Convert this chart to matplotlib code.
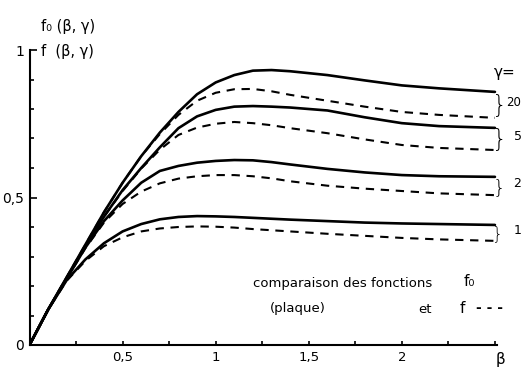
import numpy as np
import matplotlib
matplotlib.use("Agg")
import matplotlib.pyplot as plt

# beta grid and read-off values (solid = f0 plaque, dashed = f)
beta = [0, 0.1, 0.2, 0.3, 0.4, 0.5, 0.6, 0.7, 0.8, 0.9, 1.0, 1.1, 1.2, 1.3, 1.4, 1.6, 1.8, 2.0, 2.2, 2.5]

f0_g20 = [0, 0.12, 0.23, 0.34, 0.45, 0.55, 0.64, 0.72, 0.79, 0.85, 0.89, 0.915, 0.93, 0.932, 0.928, 0.915, 0.897, 0.88, 0.87, 0.858]
f_g20 = [0, 0.12, 0.23, 0.34, 0.45, 0.55, 0.64, 0.715, 0.78, 0.828, 0.855, 0.867, 0.868, 0.86, 0.848, 0.828, 0.808, 0.79, 0.78, 0.77]

f0_g5 = [0, 0.12, 0.228, 0.335, 0.435, 0.525, 0.6, 0.67, 0.735, 0.775, 0.797, 0.808, 0.81, 0.808, 0.805, 0.795, 0.772, 0.752, 0.742, 0.736]
f_g5 = [0, 0.12, 0.228, 0.335, 0.435, 0.522, 0.598, 0.662, 0.712, 0.737, 0.75, 0.756, 0.752, 0.745, 0.735, 0.718, 0.697, 0.678, 0.668, 0.661]

f0_g2 = [0, 0.12, 0.225, 0.33, 0.42, 0.49, 0.55, 0.59, 0.607, 0.618, 0.624, 0.627, 0.626, 0.62, 0.612, 0.597, 0.585, 0.576, 0.572, 0.57]
f_g2 = [0, 0.12, 0.225, 0.328, 0.415, 0.478, 0.52, 0.548, 0.564, 0.572, 0.576, 0.576, 0.572, 0.565, 0.555, 0.54, 0.53, 0.522, 0.514, 0.508]

f0_g1 = [0, 0.12, 0.22, 0.29, 0.345, 0.385, 0.41, 0.426, 0.434, 0.437, 0.436, 0.434, 0.431, 0.428, 0.425, 0.42, 0.415, 0.412, 0.41, 0.407]
f_g1 = [0, 0.12, 0.218, 0.285, 0.335, 0.365, 0.385, 0.395, 0.4, 0.402, 0.401, 0.398, 0.393, 0.389, 0.385, 0.377, 0.37, 0.363, 0.358, 0.353]

gammas = ["20", "5", "2", "1"]
solid_curves = [f0_g20, f0_g5, f0_g2, f0_g1]
dashed_curves = [f_g20, f_g5, f_g2, f_g1]

x_ticks = [0.5, 1.0, 1.5, 2.0]
x_ticklabels = ["0,5", "1", "1,5", "2"]
y_ticks = [0, 0.5, 1]
y_ticklabels = ["0", "0,5", "1"]

fig = plt.figure(figsize=(5.25, 3.68), dpi=100)
ax = fig.add_axes([29.5 / 525, 23 / 368, 467.3 / 525, 295 / 368])

for s, d in zip(solid_curves, dashed_curves):
    ax.plot(beta, s, color="black", lw=1.9, solid_capstyle="round")
    ax.plot(beta, d, color="black", lw=1.5, dashes=(4, 3.2))

ax.set_xlim(0, 2.51)
ax.set_ylim(0, 1)
for side in ["top", "right"]:
    ax.spines[side].set_visible(False)
for side in ["left", "bottom"]:
    ax.spines[side].set_linewidth(1.5)

ax.set_xticks(np.arange(0.25, 2.51, 0.25), minor=True)
ax.set_xticks(x_ticks)
ax.set_xticklabels(x_ticklabels)
ax.set_yticks(np.arange(0.1, 1.0, 0.1), minor=True)
ax.set_yticks(y_ticks)
ax.set_yticklabels(y_ticklabels)
ax.tick_params(which="both", direction="in", length=3, width=1.2)
ax.tick_params(axis="x", which="major", pad=4, labelsize=9.5)
ax.tick_params(axis="y", which="major", pad=4, labelsize=10)
ax.tick_params(axis="y", which="major", length=5)

# axis titles
ax.text(0.06, 1.08, "f\u2080 (β, γ)", fontsize=10.5, ha="left", va="center", clip_on=False)
ax.text(0.06, 0.995, "f  (β, γ)", fontsize=10.5, ha="left", va="center", clip_on=False)
ax.text(2.53, -0.025, "β", fontsize=11, ha="center", va="top", clip_on=False)

# gamma braces and labels
ax.text(2.495, 0.925, "γ=", fontsize=11, ha="left", va="center", clip_on=False)
for s, d, g in zip(solid_curves, dashed_curves, gammas):
    mid = (s[-1] + d[-1]) / 2
    gap_px = (s[-1] - d[-1]) * 295
    ax.text(2.485, mid - 0.005, "}", fontsize=min(gap_px * 0.8, 17), ha="left", va="center",
            clip_on=False, fontweight="ultralight")
    ax.text(2.56 if len(g) > 1 else 2.6, mid + 0.008, g, fontsize=8.5 if len(g) > 1 else 9,
            ha="left", va="center", clip_on=False)

# legend text
ax.text(1.2, 0.21, "comparaison des fonctions", fontsize=9.5, ha="left", va="center")
ax.text(2.33, 0.215, "f\u2080", fontsize=11, ha="left", va="center")
ax.text(1.29, 0.125, "(plaque)", fontsize=9.5, ha="left", va="center")
ax.text(2.09, 0.12, "et", fontsize=9.5, ha="left", va="center")
ax.text(2.31, 0.125, "f", fontsize=11, ha="left", va="center")
ax.text(2.4, 0.125, "- - -", fontsize=10, ha="left", va="center", fontweight="bold")

fig.savefig("out.png", dpi=100)
